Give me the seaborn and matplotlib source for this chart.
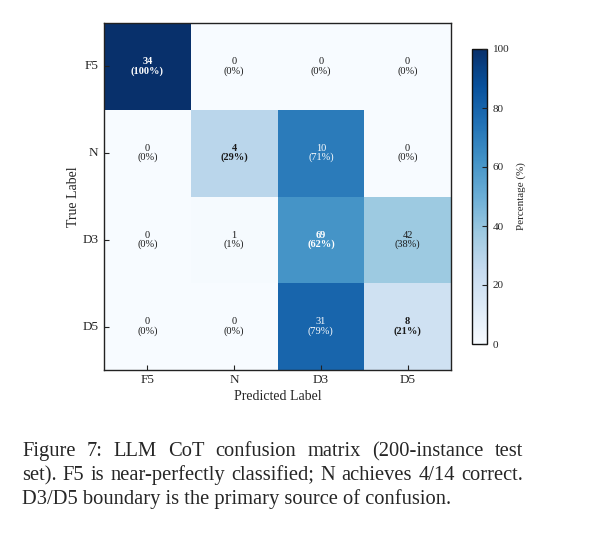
import numpy as np
import pandas as pd
import matplotlib
matplotlib.use("Agg")
import matplotlib.pyplot as plt
import seaborn as sns

labels = ["F5", "N", "D3", "D5"]
counts = [
    [34, 0, 0, 0],
    [0, 4, 10, 0],
    [0, 1, 69, 42],
    [0, 0, 31, 8],
]
cbar_ticks = [0, 20, 40, 60, 80, 100]
caption_lines = [
    "Figure 7:  LLM CoT confusion matrix (200-instance test",
    "set). F5 is near-perfectly classified; N achieves 4/14 correct.",
    "D3/D5 boundary is the primary source of confusion.",
]

sns.set_theme(style="white")
plt.rcParams["font.family"] = ["Liberation Serif", "DejaVu Serif"]
plt.rcParams["axes.axisbelow"] = False

cm = np.array(counts, dtype=float)
pct = cm / cm.sum(axis=1, keepdims=True) * 100
df = pd.DataFrame(pct, index=labels, columns=labels)
annot = np.array([[f"{int(counts[i][j])}\n({pct[i, j]:.0f}%)" for j in range(4)] for i in range(4)])

W, H = 599, 540
fig = plt.figure(figsize=(W / 100, H / 100), dpi=100)
ax = fig.add_axes([104 / W, 1 - 370 / H, 347 / W, 347 / H])
cax = fig.add_axes([472 / W, 1 - 344 / H, 15 / W, 295 / H])

sns.heatmap(df, ax=ax, cbar_ax=cax, cmap="Blues", vmin=0, vmax=100,
            annot=annot, fmt="", annot_kws={"fontsize": 7.5, "linespacing": 1.0},
            cbar_kws={"ticks": cbar_ticks})
ax.set_axisbelow(False)
cax.set_axisbelow(False)

for t in ax.texts:
    x, y = t.get_position()
    j, i = int(x), int(y)
    t.set_color("white" if pct[i, j] > 50 else "#1a1a1a")
    if i == j:
        t.set_fontweight("bold")

for s in ax.spines.values():
    s.set_visible(True)
    s.set_color("#222222")
    s.set_linewidth(1.0)
    s.set_zorder(5)

ax.tick_params(axis="both", which="major", direction="in", length=3.5, width=0.8,
               color="#222222", labelsize=9.5, pad=4)
ax.tick_params(axis="x", bottom=True, pad=3)
ax.tick_params(axis="y", left=True)
ax.set_xticklabels(labels, rotation=0)
ax.set_yticklabels(labels, rotation=0)
ax.set_xlabel("Predicted Label", fontsize=10, labelpad=3)
ax.set_ylabel("True Label", fontsize=10, labelpad=2)

cbar = ax.collections[0].colorbar
cbar.outline.set_visible(True)
cbar.outline.set_edgecolor("#111111")
cbar.outline.set_linewidth(1.0)
cax.tick_params(direction="in", length=3.5, width=0.8, labelsize=8, pad=4,
                color="#222222", right=True)
cbar.set_label("Percentage (%)", fontsize=8, labelpad=5)

# Caption (justified)
fig.canvas.draw()
renderer = fig.canvas.get_renderer()
x0, x1 = 22, 523
baselines = [456, 480, 504]
fs = 14.8
for k, line in enumerate(caption_lines):
    yb = 1 - baselines[k] / H
    if k == len(caption_lines) - 1:
        fig.text(x0 / W, yb, line, fontsize=fs, va="baseline", ha="left")
        continue
    words = [w for w in line.split(" ") if w != ""]
    objs = [fig.text(0, yb, w, fontsize=fs, va="baseline", ha="left") for w in words]
    widths = [o.get_window_extent(renderer).width for o in objs]
    gap = (x1 - x0 - sum(widths)) / (len(words) - 1)
    xc = x0
    for o, w in zip(objs, widths):
        o.set_x(xc / W)
        xc += w + gap

fig.savefig("out.png", dpi=100)
